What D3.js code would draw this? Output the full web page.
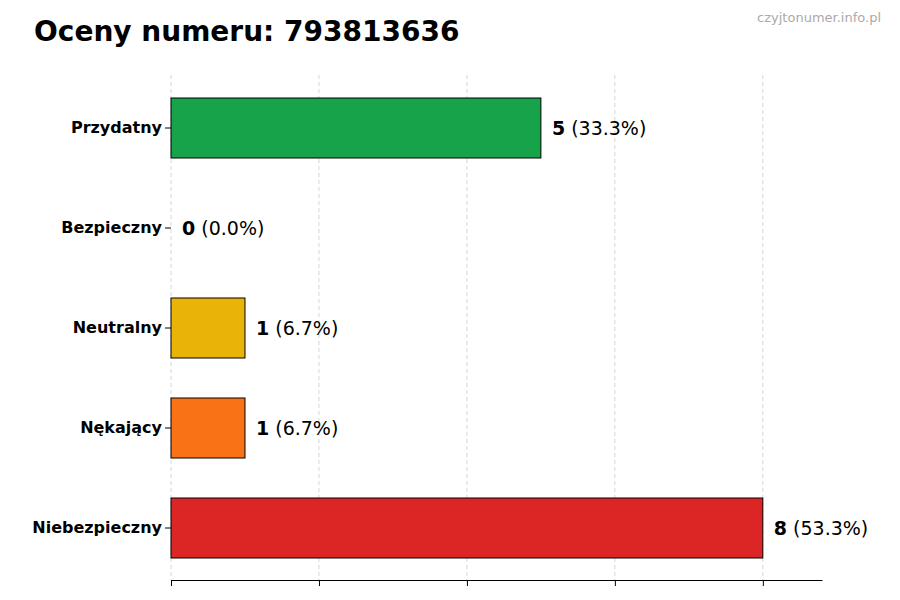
<!DOCTYPE html><html><head><meta charset="utf-8"><script src="https://cdn.jsdelivr.net/npm/d3@7"></script>
<style>body{margin:0;background:#fff;font-family:"DejaVu Sans",sans-serif}</style></head><body><svg width="900" height="600"></svg>
<script>
const categories=["Przydatny","Bezpieczny","Neutralny","Nękający","Niebezpieczny"];
const values=[5,0,1,1,8];
const percents=["33.3%","0.0%","6.7%","6.7%","53.3%"];
const colors=["#16a34a","#16a34a","#eab308","#f97316","#dc2626"];
const ticks=[0,2,4,6,8];
const svg=d3.select("svg");
const x=d3.scaleLinear().domain([0,8.8]).range([171,822]);
const y=d3.scaleBand().domain(categories).range([78,578]).paddingInner(0.4).paddingOuter(0.2);
svg.append("g").selectAll("line").data(ticks).join("line").attr("x1",d=>x(d)).attr("x2",d=>x(d)).attr("y1",75).attr("y2",580).attr("stroke","#ccc").attr("stroke-dasharray","4,3").attr("stroke-width",0.8);
svg.append("g").attr("transform","translate(0,580)").call(d3.axisBottom(x).tickValues(ticks).tickFormat("").tickSizeOuter(0)).call(g=>g.select(".domain").attr("stroke","#000"));
svg.append("g").attr("transform","translate(171,0)").call(d3.axisLeft(y).tickSizeOuter(0)).call(g=>g.select(".domain").remove()).call(g=>g.selectAll("text").attr("font-size",16).attr("font-weight","bold").attr("fill","#000").attr("font-family","DejaVu Sans"));
svg.append("g").selectAll("rect").data(values).join("rect").attr("x",x(0)).attr("y",(d,i)=>y(categories[i])).attr("height",y.bandwidth()).attr("width",d=>x(d)-x(0)).attr("fill",(d,i)=>colors[i]).attr("stroke","#000").attr("stroke-width",1);
const t=svg.append("g").selectAll("text").data(values).join("text").attr("x",d=>x(d)+11).attr("y",(d,i)=>y(categories[i])+y.bandwidth()/2).attr("dy","0.35em").attr("font-size",19);
t.append("tspan").attr("font-weight","bold").text(d=>d);
t.append("tspan").text((d,i)=>" ("+percents[i]+")");
svg.append("text").attr("x",34).attr("y",41).attr("font-size",28).attr("font-weight","bold").text("Oceny numeru: 793813636");
svg.append("text").attr("x",881).attr("y",22).attr("text-anchor","end").attr("font-size",13).attr("fill","#aaa").text("czyjtonumer.info.pl");
</script></body></html>
